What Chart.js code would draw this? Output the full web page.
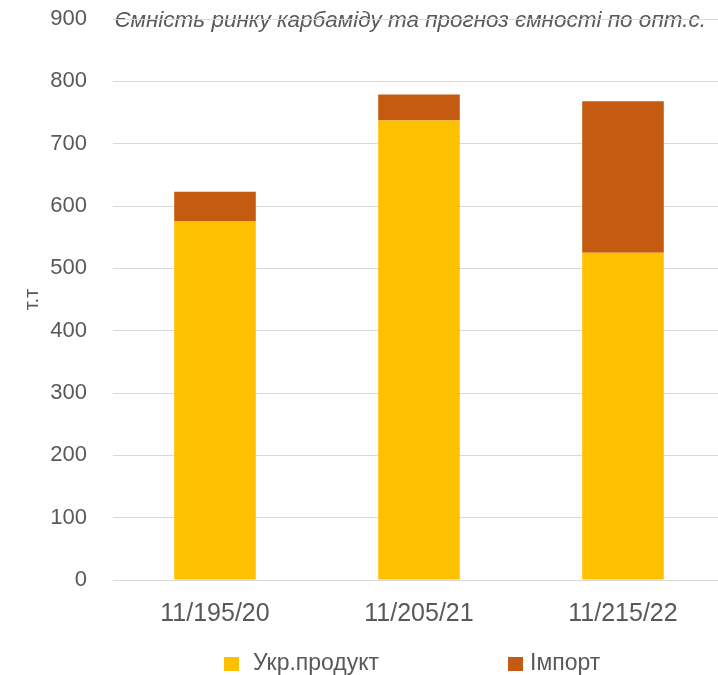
<!DOCTYPE html>
<html>
<head>
<meta charset="utf-8">
<script src="https://cdn.jsdelivr.net/npm/chart.js@4"></script>
<style>
  html, body { margin: 0; padding: 0; background: #fff; overflow: hidden; }
  #wrap { width: 725px; height: 675px; }
</style>
</head>
<body>
<div id="wrap"><canvas id="chart"></canvas></div>
<script>
// дані графіка
const categories = ['11/195/20', '11/205/21', '11/215/22'];
const seriesNames = ['Укр.продукт', 'Імпорт'];
const ukrValues = [575, 737, 525];
const importValues = [48, 42, 243];
const yTicks = [0, 100, 200, 300, 400, 500, 600, 700, 800, 900];
const chartTitle = 'Ємність ринку карбаміду та прогноз ємності по опт.с.';
const yTitle = 'т.т';

const textColor = '#595959';
const fontFamily = '"Liberation Sans", Arial, sans-serif';

// заголовок малюємо до сітки, щоб лінія 900 йшла поверх тексту
const titlePlugin = {
    id: 'titleBehind',
    beforeDraw(chart) {
        const { ctx } = chart;
        ctx.save();
        ctx.font = 'italic 22.5px ' + fontFamily;
        ctx.fillStyle = textColor;
        ctx.textAlign = 'right';
        ctx.textBaseline = 'middle';
        ctx.fillText(chartTitle, 706, 21);
        ctx.restore();
    }
};

// власна легенда внизу
const legendPlugin = {
    id: 'bottomLegend',
    afterDraw(chart) {
        const { ctx } = chart;
        const boxX = [224, 508];
        const textX = [253, 530];
        ctx.save();
        ctx.font = '23px ' + fontFamily;
        ctx.textBaseline = 'middle';
        ctx.textAlign = 'left';
        chart.data.datasets.forEach((ds, i) => {
            ctx.fillStyle = ds.backgroundColor;
            ctx.fillRect(boxX[i], 657, 15, 14);
            ctx.fillStyle = textColor;
            ctx.fillText(ds.label, textX[i], 664);
        });
        ctx.restore();
    }
};

new Chart(document.getElementById('chart'), {
    type: 'bar',
    data: {
        labels: categories,
        datasets: [
            { label: seriesNames[0], data: ukrValues, backgroundColor: '#FFC000' },
            { label: seriesNames[1], data: importValues, backgroundColor: '#C55A11' }
        ]
    },
    options: {
        responsive: true,
        maintainAspectRatio: false,
        animation: false,
        layout: { padding: { top: 19, right: 0, bottom: 30, left: 0 } },
        categoryPercentage: 0.8,
        barPercentage: 0.5,
        plugins: {
            legend: { display: false },
            tooltip: { enabled: false },
            title: { display: false }
        },
        scales: {
            x: {
                stacked: true,
                afterFit(scale) { scale.height = 65; },
                grid: { display: false, drawTicks: false },
                border: { display: false },
                ticks: { color: textColor, font: { size: 25, family: fontFamily }, padding: 19 }
            },
            y: {
                stacked: true,
                min: 0,
                max: 900,
                afterBuildTicks(scale) { scale.ticks = yTicks.map(v => ({ value: v })); },
                afterFit(scale) {
                    scale.width = 113;
                    scale.paddingTop = 0;
                    scale.paddingBottom = 0;
                },
                grid: { color: '#d9d9d9', lineWidth: 1, drawTicks: false },
                border: { display: false },
                ticks: { color: textColor, font: { size: 22, family: fontFamily }, padding: 26 },
                title: {
                    display: true,
                    text: yTitle,
                    color: textColor,
                    font: { size: 20, family: fontFamily },
                    padding: { top: 20, bottom: 0 }
                }
            }
        }
    },
    plugins: [titlePlugin, legendPlugin]
});
</script>
</body>
</html>
